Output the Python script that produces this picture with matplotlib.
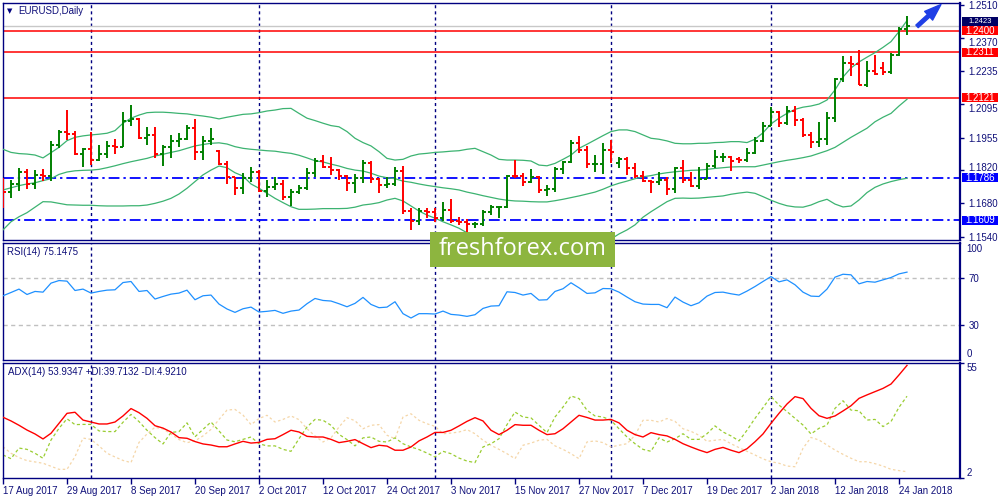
import matplotlib
matplotlib.use('Agg')
import matplotlib.pyplot as plt
import matplotlib.transforms as mtransforms
from matplotlib.patches import Rectangle, FancyArrowPatch
import numpy as np

plt.rcParams['font.family'] = ['Liberation Sans', 'DejaVu Sans']

# ---------------- data ----------------
opens = [1.1772,1.1726,1.1761,1.1812,1.1762,1.1800,1.1795,1.1923,1.1978,1.1968,
         1.1888,1.1908,1.1860,1.1887,1.1918,1.1915,1.2024,1.2034,1.1953,1.1966,
         1.1887,1.1917,1.1941,1.1950,1.1996,1.1895,1.1941,1.1900,1.1845,1.1792,
         1.1746,1.1785,1.1813,1.1733,1.1748,1.1760,1.1706,1.1728,1.1745,1.1808,
         1.1858,1.1830,1.1820,1.1795,1.1766,1.1787,1.1848,1.1783,1.1758,1.1762,
         1.1814,1.1649,1.1607,1.1646,1.1645,1.1617,1.1654,1.1608,1.1600,1.1592,
         1.1594,1.1645,1.1664,1.1665,1.1795,1.1793,1.1770,1.1791,1.1737,1.1738,
         1.1824,1.1852,1.1932,1.1903,1.1845,1.1846,1.1904,1.1850,1.1864,1.1827,
         1.1795,1.1773,1.1771,1.1777,1.1742,1.1828,1.1776,1.1752,1.1781,1.1838,
         1.1872,1.1874,1.1865,1.1861,1.1890,1.1942,1.2005,1.2060,1.2015,1.2068,
         1.2029,1.1967,1.1937,1.1950,1.2035,1.2200,1.2265,1.2262,1.2176,1.2235,
         1.2245,1.2230,1.2300,1.2407]
highs = [1.1788,1.1778,1.1826,1.1822,1.1820,1.1822,1.1940,1.1985,1.2070,1.1984,
         1.1912,1.1980,1.1922,1.1940,1.1950,1.2060,1.2093,1.2035,1.2000,1.2000,
         1.1923,1.1965,1.1972,1.2007,1.2034,1.1962,1.1995,1.1903,1.1858,1.1792,
         1.1805,1.1833,1.1819,1.1777,1.1790,1.1777,1.1738,1.1757,1.1826,1.1868,
         1.1882,1.1875,1.1822,1.1798,1.1803,1.1860,1.1857,1.1785,1.1791,1.1830,
         1.1836,1.1659,1.1660,1.1659,1.1660,1.1687,1.1697,1.1624,1.1613,1.1603,
         1.1652,1.1673,1.1667,1.1798,1.1861,1.1805,1.1822,1.1793,1.1757,1.1830,
         1.1858,1.1945,1.1961,1.1920,1.1882,1.1934,1.1945,1.1875,1.1875,1.1850,
         1.1817,1.1777,1.1812,1.1791,1.1833,1.1861,1.1812,1.1833,1.1850,1.1903,
         1.1889,1.1878,1.1875,1.1910,1.1957,1.2022,1.2081,1.2064,1.2089,1.2088,
         1.2038,1.1977,1.2021,1.2060,1.2203,1.2297,1.2296,1.2323,1.2275,1.2298,
         1.2270,1.2307,1.2416,1.2463]
lows = [1.1659,1.1703,1.1731,1.1740,1.1740,1.1775,1.1772,1.1912,1.1945,1.1882,
        1.1832,1.1840,1.1856,1.1868,1.1885,1.1915,1.2002,1.1950,1.1923,1.1870,
        1.1835,1.1870,1.1916,1.1944,1.1861,1.1861,1.1925,1.1840,1.1760,1.1716,
        1.1719,1.1770,1.1729,1.1705,1.1736,1.1696,1.1668,1.1720,1.1736,1.1791,
        1.1826,1.1798,1.1777,1.1733,1.1724,1.1766,1.1766,1.1722,1.1743,1.1752,
        1.1636,1.1568,1.1589,1.1617,1.1603,1.1607,1.1596,1.1589,1.1556,1.1575,
        1.1585,1.1631,1.1617,1.1659,1.1784,1.1752,1.1763,1.1722,1.1710,1.1729,
        1.1803,1.1847,1.1892,1.1826,1.1812,1.1803,1.1847,1.1826,1.1798,1.1784,
        1.1770,1.1725,1.1757,1.1715,1.1724,1.1766,1.1747,1.1738,1.1780,1.1826,
        1.1854,1.1817,1.1847,1.1854,1.1888,1.1935,1.2005,1.2001,1.2006,1.2004,
        1.1956,1.1910,1.1917,1.1923,1.2020,1.2188,1.2212,1.2175,1.2165,1.2216,
        1.2216,1.2221,1.2294,1.2385]
closes = [1.1726,1.1761,1.1812,1.1762,1.1800,1.1795,1.1923,1.1978,1.1968,1.1888,
          1.1908,1.1860,1.1887,1.1918,1.1915,1.2024,1.2034,1.1953,1.1966,1.1887,
          1.1917,1.1941,1.1950,1.1996,1.1895,1.1941,1.1948,1.1845,1.1792,1.1746,
          1.1785,1.1813,1.1733,1.1748,1.1760,1.1706,1.1728,1.1745,1.1808,1.1858,
          1.1830,1.1820,1.1795,1.1766,1.1787,1.1848,1.1783,1.1758,1.1762,1.1814,
          1.1649,1.1607,1.1646,1.1645,1.1617,1.1654,1.1608,1.1600,1.1592,1.1594,
          1.1645,1.1664,1.1665,1.1795,1.1793,1.1770,1.1791,1.1737,1.1738,1.1824,
          1.1852,1.1932,1.1903,1.1845,1.1846,1.1904,1.1895,1.1864,1.1827,1.1795,
          1.1773,1.1771,1.1777,1.1742,1.1828,1.1776,1.1752,1.1781,1.1838,1.1872,
          1.1874,1.1859,1.1861,1.1889,1.1942,1.2005,1.2060,1.2015,1.2068,1.2029,
          1.1967,1.1937,1.1950,1.2035,1.2200,1.2265,1.2262,1.2176,1.2235,1.2220,
          1.2230,1.2300,1.2407,1.2423]

bb_upper = [1.1906,1.1893,1.1888,1.1886,1.1882,1.1870,1.1892,1.1914,1.1942,1.1956,
            1.1962,1.1966,1.1969,1.1973,1.1984,1.2015,1.2036,1.2049,1.2059,1.2061,
            1.2061,1.2059,1.2056,1.2054,1.2049,1.2045,1.2040,1.2033,1.2040,1.2046,
            1.2052,1.2054,1.2059,1.2066,1.2070,1.2076,1.2077,1.2056,1.2036,1.2026,
            1.2015,1.2005,1.2000,1.1980,1.1952,1.1934,1.1920,1.1896,1.1868,1.1861,
            1.1864,1.1878,1.1886,1.1889,1.1893,1.1895,1.1898,1.1900,1.1906,1.1910,
            1.1896,1.1882,1.1864,1.1861,1.1861,1.1860,1.1857,1.1840,1.1837,1.1847,
            1.1864,1.1882,1.1910,1.1927,1.1945,1.1963,1.1980,1.1987,1.1987,1.1980,
            1.1966,1.1952,1.1948,1.1941,1.1931,1.1929,1.1929,1.1931,1.1931,1.1934,
            1.1935,1.1938,1.1938,1.1934,1.1948,1.1975,1.2012,1.2036,1.2056,1.2073,
            1.2082,1.2087,1.2095,1.2112,1.2154,1.2208,1.2246,1.2271,1.2291,1.2310,
            1.2332,1.2356,1.2398,1.2444]
bb_middle = [1.1736,1.1745,1.1754,1.1761,1.1766,1.1775,1.1783,1.1801,1.1811,1.1816,
             1.1818,1.1819,1.1822,1.1829,1.1837,1.1846,1.1854,1.1861,1.1868,1.1878,
             1.1885,1.1893,1.1900,1.1910,1.1920,1.1926,1.1931,1.1933,1.1928,1.1917,
             1.1910,1.1906,1.1903,1.1900,1.1898,1.1893,1.1889,1.1881,1.1870,1.1858,
             1.1853,1.1844,1.1836,1.1826,1.1819,1.1815,1.1806,1.1794,1.1787,1.1783,
             1.1773,1.1768,1.1761,1.1755,1.1750,1.1745,1.1741,1.1736,1.1727,1.1720,
             1.1712,1.1705,1.1698,1.1693,1.1690,1.1689,1.1687,1.1686,1.1686,1.1691,
             1.1697,1.1704,1.1711,1.1719,1.1727,1.1739,1.1753,1.1764,1.1773,1.1783,
             1.1791,1.1796,1.1803,1.1808,1.1812,1.1815,1.1818,1.1819,1.1822,1.1826,
             1.1829,1.1832,1.1833,1.1833,1.1833,1.1840,1.1847,1.1854,1.1860,1.1865,
             1.1871,1.1878,1.1889,1.1900,1.1914,1.1935,1.1956,1.1975,1.1994,1.2021,
             1.2040,1.2056,1.2087,1.2115]
bb_lower = [1.1569,1.1603,1.1624,1.1641,1.1664,1.1687,1.1686,1.1680,1.1674,1.1673,
            1.1672,1.1672,1.1670,1.1669,1.1669,1.1669,1.1670,1.1670,1.1673,1.1680,
            1.1689,1.1701,1.1719,1.1743,1.1771,1.1799,1.1819,1.1836,1.1829,1.1808,
            1.1794,1.1761,1.1743,1.1722,1.1701,1.1683,1.1666,1.1655,1.1655,1.1656,
            1.1658,1.1658,1.1658,1.1659,1.1664,1.1673,1.1677,1.1683,1.1694,1.1701,
            1.1690,1.1669,1.1648,1.1631,1.1618,1.1603,1.1590,1.1576,1.1557,1.1541,
            1.1527,1.1523,1.1523,1.1523,1.1518,1.1518,1.1518,1.1527,1.1535,1.1535,
            1.1531,1.1523,1.1514,1.1510,1.1510,1.1514,1.1531,1.1552,1.1569,1.1590,
            1.1622,1.1645,1.1666,1.1687,1.1701,1.1702,1.1701,1.1702,1.1705,1.1708,
            1.1711,1.1718,1.1723,1.1727,1.1722,1.1708,1.1693,1.1680,1.1670,1.1665,
            1.1664,1.1673,1.1687,1.1697,1.1677,1.1665,1.1669,1.1694,1.1725,1.1747,
            1.1761,1.1771,1.1779,1.1785]

rsi = [54.9,57.7,60.6,56.0,58.6,58.0,65.7,67.9,67.4,59.4,
       60.6,57.2,58.6,59.7,60.0,66.2,67.1,58.6,59.4,52.1,
       54.3,56.3,57.2,59.7,51.5,54.9,55.5,47.8,43.6,40.7,
       43.8,45.2,41.0,41.6,42.4,39.9,41.8,42.7,48.1,52.6,
       50.9,50.4,48.1,45.5,48.4,53.5,47.5,44.7,45.2,49.8,
       39.6,35.9,39.6,39.6,39.3,41.8,39.0,38.4,37.3,38.7,
       44.1,46.1,46.4,58.3,57.7,55.5,56.9,51.2,51.5,58.6,
       60.9,66.0,61.7,56.9,57.4,61.1,60.9,58.0,53.8,49.8,
       47.8,47.5,47.5,44.7,53.8,49.5,46.4,48.9,54.6,57.7,
       58.0,56.6,55.5,58.9,62.8,67.1,71.3,66.8,68.5,64.3,
       58.0,54.6,54.3,60.6,70.8,73.3,72.8,65.1,67.1,66.5,
       68.5,70.5,73.6,75.1]

adx = [30.0,28.3,26.3,24.1,22.3,20.0,22.6,27.2,31.8,32.3,
       28.7,27.8,26.9,26.9,27.8,30.6,34.0,32.1,29.5,26.1,
       25.0,23.2,20.6,20.3,18.8,17.7,17.2,16.4,16.4,17.7,
       18.9,18.1,18.4,19.8,20.1,22.0,24.0,23.2,21.2,20.9,
       20.9,19.8,18.3,18.9,19.7,17.8,16.0,17.1,16.7,14.8,
       14.8,16.3,19.1,20.9,23.0,23.0,24.0,26.0,28.1,29.8,
       28.3,24.0,22.0,24.0,26.6,26.3,26.3,24.0,22.0,22.4,
       24.7,27.8,30.9,29.9,28.7,28.7,29.0,27.4,24.0,22.0,
       20.9,22.9,22.0,21.4,19.8,17.8,16.3,14.9,13.7,15.2,
       16.1,14.8,13.7,15.5,18.7,22.3,27.2,31.8,36.1,39.5,
       38.6,34.1,30.7,29.5,30.6,32.9,35.3,38.7,40.3,41.8,
       43.3,45.3,49.5,53.9]
plus_di = [12.6,10.9,15.8,15.2,13.4,11.1,19.5,24.9,29.3,26.6,
           26.7,26.7,23.7,23.4,23.4,27.7,31.3,28.0,24.0,20.6,
           17.7,23.0,23.4,27.4,21.0,24.4,27.8,23.7,19.5,18.7,
           19.8,20.9,17.8,16.8,16.8,15.2,14.3,20.1,25.5,29.0,
           28.6,26.3,22.1,19.7,16.8,20.5,20.9,18.9,18.6,20.5,
           17.8,16.3,15.1,13.5,11.7,14.3,13.2,11.2,9.8,9.1,
           16.3,17.8,20.1,26.6,32.4,30.1,29.7,26.3,22.9,30.1,
           34.7,39.8,38.6,33.2,30.6,30.1,28.6,24.7,20.9,17.8,
           15.2,14.3,20.5,18.6,20.1,22.4,19.8,19.8,22.4,26.0,
           23.2,21.4,19.1,24.0,29.5,34.4,39.5,35.6,32.6,29.5,
           26.4,22.3,24.9,26.4,34.1,37.6,33.3,33.0,28.7,29.0,
           25.7,28.0,34.6,39.7]
minus_di = [16.4,13.4,11.4,10.0,9.4,8.8,7.4,6.0,6.0,11.8,
            20.4,19.8,16.8,13.4,11.7,10.1,9.1,18.4,22.3,25.4,
            24.6,22.3,19.7,18.3,19.1,21.4,24.4,29.0,33.3,33.6,
            31.0,26.6,29.4,30.9,27.8,29.0,30.6,28.9,24.7,21.4,
            18.6,20.5,25.5,29.8,28.4,24.7,26.3,26.6,21.7,20.1,
            30.1,31.6,28.6,27.0,25.8,22.4,22.7,23.2,24.3,22.4,
            19.4,17.1,15.2,13.2,10.9,17.1,18.1,19.4,19.8,16.8,
            15.2,13.2,10.9,18.6,19.1,18.3,16.3,17.1,17.8,21.7,
            28.6,28.6,27.8,29.4,28.1,24.7,23.5,21.7,18.9,19.4,
            19.8,17.8,16.0,14.3,12.6,10.8,9.5,8.8,7.5,7.2,
            15.7,20.7,19.5,17.2,14.9,12.9,11.1,9.5,9.5,8.6,
            7.5,6.0,5.4,4.9]

date_labels = ['17 Aug 2017', '29 Aug 2017', '8 Sep 2017', '20 Sep 2017', '2 Oct 2017',
               '12 Oct 2017', '24 Oct 2017', '3 Nov 2017', '15 Nov 2017', '27 Nov 2017',
               '7 Dec 2017', '19 Dec 2017', '2 Jan 2018', '12 Jan 2018', '24 Jan 2018']
date_label_bars = [0, 8, 16, 24, 32, 40, 48, 56, 64, 72, 80, 88, 96, 104, 112]
month_start_bars = [11, 32, 54, 76, 96]

price_ticks = [1.2510, 1.2370, 1.2235, 1.2095, 1.1955, 1.1820, 1.1680, 1.1540]
red_levels = [1.2400, 1.2311, 1.2121]
blue_levels = [1.1786, 1.1609]
bid_price = 1.2423

symbol_title = 'EURUSD,Daily'
rsi_title = 'RSI(14) 75.1475'
adx_title = 'ADX(14) 53.9347 +DI:39.7132 -DI:4.9210'

# ---------------- styling ----------------
NAVY = '#000080'
TXT = '#10107a'
BULL = '#008000'
BEAR = '#ff0000'
BAND = '#3cb371'
FS = 7

W, H = 1000, 500
fig = plt.figure(figsize=(10, 5), dpi=100)
fig.patch.set_facecolor('white')

def rect(top, bottom, left=3, right=960):
    return [left / W, 1 - bottom / H, (right - left) / W, (bottom - top) / H]

ax = fig.add_axes(rect(2.7, 240))
ax_r = fig.add_axes(rect(243, 360))
ax_a = fig.add_axes(rect(363, 478))

n = len(closes)
x = np.arange(n)
xmax = 957 / 8.0

for a in (ax, ax_r, ax_a):
    a.set_xlim(0, xmax)
    for s in a.spines.values():
        s.set_color(NAVY)
        s.set_linewidth(1.0)
    a.spines['right'].set_linewidth(1.6)
    a.yaxis.tick_right()
    a.tick_params(axis='y', direction='out', length=3, width=1, color=NAVY,
                  labelcolor=TXT, labelsize=FS, pad=3)
    for b in month_start_bars:
        a.axvline(b, color=NAVY, lw=1.0, ls=(0, (2.2, 2.2)), zorder=1)

ax.set_xticks([])
ax_r.set_xticks([])

# ---- main price panel ----
ymin, ymax = 1.15268, 1.25187
ax.set_ylim(ymin, ymax)
ax.set_yticks(price_ticks)
ax.set_yticklabels(['%.4f' % p for p in price_ticks])
# nudge the scale labels that sit right next to the coloured level boxes
label_nudge_px = {1.2370: -4, 1.2095: -4, 1.1820: 3}
for lbl, val in zip(ax.get_yticklabels(), price_ticks):
    if val in label_nudge_px:
        lbl.set_transform(lbl.get_transform() +
                          mtransforms.ScaledTranslation(0, label_nudge_px[val] / 100.0,
                                                        fig.dpi_scale_trans))

for lv in red_levels:
    ax.axhline(lv, color='#ff0000', lw=1.1, zorder=2)
for lv in blue_levels:
    ax.axhline(lv, color='#0000ff', lw=1.3, ls=(0, (6, 2.2, 1.3, 2.2)), zorder=2)
ax.axhline(bid_price, color='#c8c8c8', lw=1.0, zorder=1.5)

ax.plot(x, bb_upper, color=BAND, lw=0.9, zorder=3)
ax.plot(x, bb_middle, color=BAND, lw=0.9, zorder=3)
ax.plot(x, bb_lower, color=BAND, lw=0.9, zorder=3)

cols = [BULL if c > o else BEAR for o, c in zip(opens, closes)]
ax.vlines(x, lows, highs, colors=cols, lw=1.4, zorder=4)
ax.hlines(opens, x - 0.38, x, colors=cols, lw=1.4, zorder=4)
ax.hlines(closes, x, x + 0.38, colors=cols, lw=1.4, zorder=4)

# right-side price boxes
bt = mtransforms.blended_transform_factory(ax.transAxes, ax.transData)
ppx = (ymax - ymin) / 237.3
bx0 = (962 - 3) / 957.0
bw = 36 / 957.0

# bid box (mostly tucked under the 1.2400 box)
ax.add_patch(Rectangle((bx0, bid_price - 5 * ppx), bw, 14 * ppx, transform=bt,
                       facecolor='#000064', edgecolor='none', clip_on=False, zorder=6))
ax.text(bx0 + bw / 2, bid_price + 4.2 * ppx, '%.4f' % bid_price, transform=bt, color='white',
        fontsize=5.5, ha='center', va='center', clip_on=False, zorder=6.05)

boxes = [(lv, '#ff0000') for lv in red_levels] + [(lv, '#0000ff') for lv in blue_levels]
for k, (lv, c) in enumerate(boxes):
    ax.add_patch(Rectangle((bx0, lv - 4.4 * ppx), bw, 9.2 * ppx, transform=bt,
                           facecolor=c, edgecolor='none', clip_on=False, zorder=6.2 + k * 0.1))
    ax.text(bx0 + bw / 2, lv, '%.4f' % lv, transform=bt, color='white', fontsize=FS,
            ha='center', va='center', clip_on=False, zorder=6.25 + k * 0.1)

ax.text(0.0045, 0.966, '\u25bc', transform=ax.transAxes, color=NAVY, fontsize=5,
        ha='left', va='center', family=['DejaVu Sans'])
ax.text(0.016, 0.965, symbol_title, transform=ax.transAxes, color=TXT, fontsize=FS,
        ha='left', va='center')

arrow = FancyArrowPatch((114.0, 1.2412), (117.5, 1.2519),
                        arrowstyle='simple,head_length=1.2,head_width=0.85,tail_width=0.25',
                        mutation_scale=10, color='#1f3fe6', clip_on=False, zorder=7)
ax.add_patch(arrow)

# ---- RSI panel ----
ax_r.set_ylim(0, 100)
ax_r.plot(x, rsi, color='#1e90ff', lw=0.9, zorder=3)
for lv in (70, 30):
    ax_r.axhline(lv, color='#c0c0c0', lw=1.0, ls=(0, (3, 2.5)), zorder=1)
ax_r.set_yticks([70, 30])
ax_r.set_yticklabels(['70', '30'])
rt = mtransforms.blended_transform_factory(ax_r.transAxes, ax_r.transData)
ax_r.text(1.0065, 99, '100', transform=rt, color=TXT, fontsize=FS, ha='left', va='top')
ax_r.text(1.0065, 1, '0', transform=rt, color=TXT, fontsize=FS, ha='left', va='bottom')
ax_r.text(0.0045, 0.925, rsi_title, transform=ax_r.transAxes, color=TXT, fontsize=FS,
          ha='left', va='center')

# ---- ADX panel ----
ax_a.set_ylim(2, 55)
ax_a.plot(x, minus_di, color='#f5d6a8', lw=0.9, ls=(0, (2, 2)), zorder=2)
ax_a.plot(x, plus_di, color='#9acd32', lw=0.9, ls=(0, (2.5, 2)), zorder=2.5)
ax_a.plot(x, adx, color='#ff0000', lw=1.0, zorder=3)
ax_a.set_yticks([55, 2])
ax_a.set_yticklabels(['', ''])
at = mtransforms.blended_transform_factory(ax_a.transAxes, ax_a.transData)
ax_a.text(1.0065, 55, '55', transform=at, color=TXT, fontsize=FS, ha='left', va='top')
ax_a.text(1.0065, 2, '2', transform=at, color=TXT, fontsize=FS, ha='left', va='bottom')
ax_a.text(0.005, 0.92, adx_title, transform=ax_a.transAxes, color=TXT, fontsize=FS,
          ha='left', va='center')
ax_a.set_xticks(date_label_bars)
ax_a.set_xticklabels(date_labels, ha='left')
ax_a.tick_params(axis='x', direction='out', length=4, width=1, color=NAVY,
                 labelcolor=TXT, labelsize=FS, pad=2)

# ---- watermark ----
fig.patches.append(Rectangle((430 / W, 1 - 267 / H), 185 / W, 35.3 / H,
                             transform=fig.transFigure, facecolor='#8db53f',
                             edgecolor='none', zorder=10))
fig.text(522.5 / W, 1 - 249 / H, 'freshforex.com', color='white', fontsize=17,
         ha='center', va='center', family=['Open Sans', 'DejaVu Sans'], zorder=11)

fig.savefig('out.png', dpi=100)
